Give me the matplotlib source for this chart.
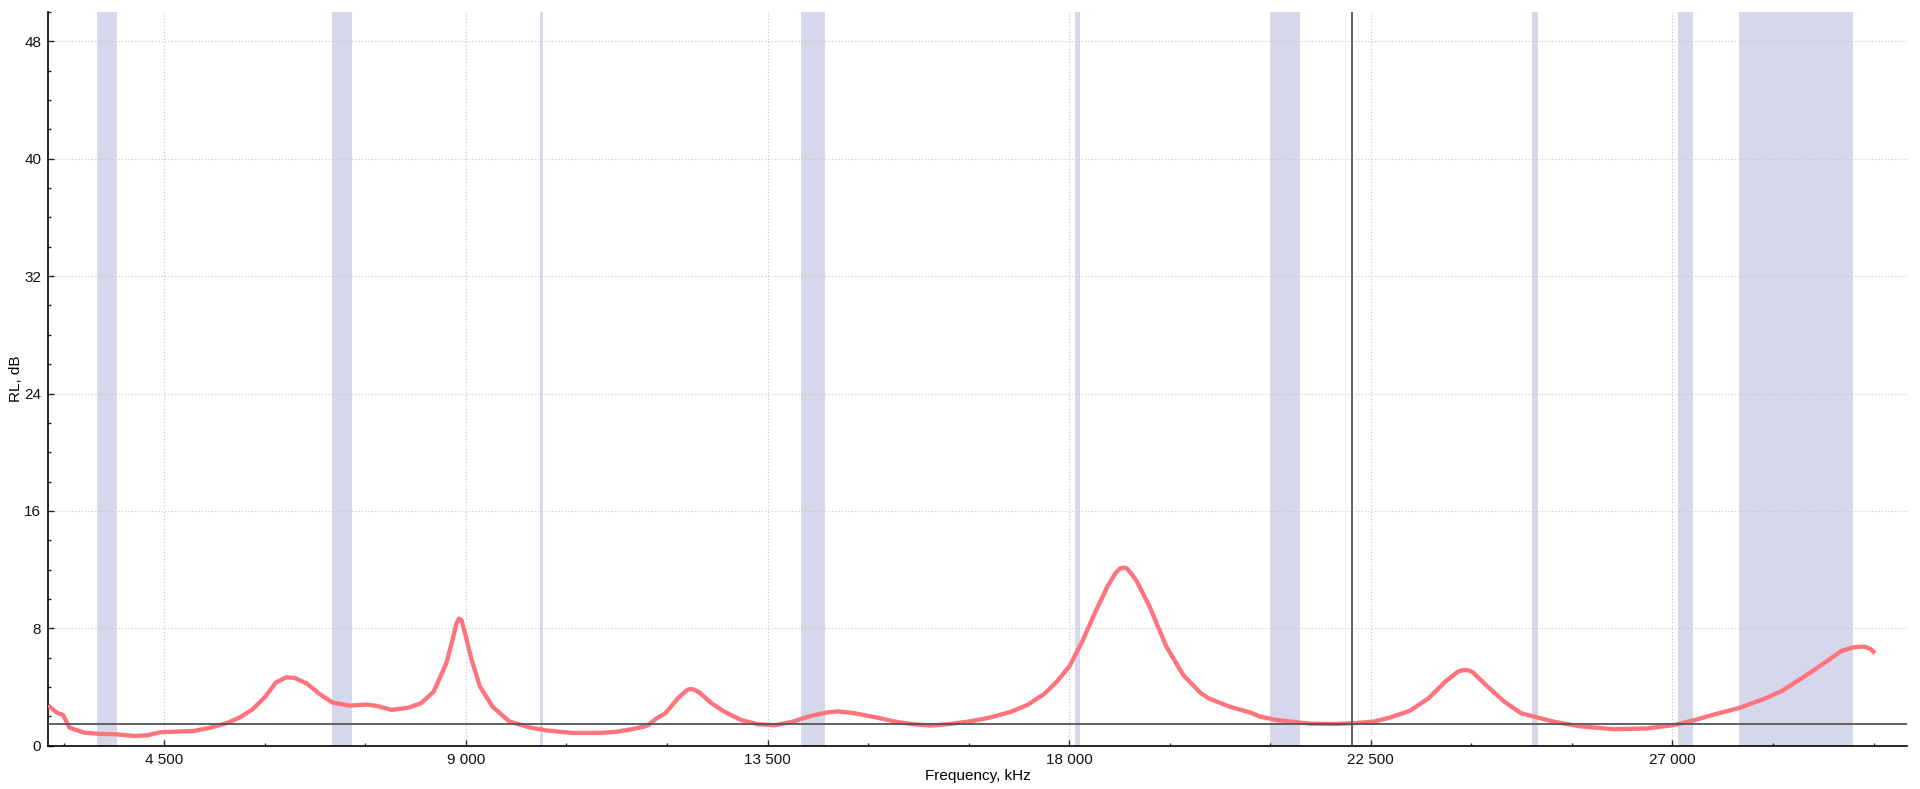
import matplotlib
matplotlib.use('Agg')
import matplotlib.pyplot as plt
import matplotlib.ticker as mticker

# ── Data ──────────────────────────────────────────────────────────────────────
FREQ = [2770, 2896, 2991, 3085, 3305, 3556, 3776, 4059, 4248, 4436,
        4687, 4939, 5190, 5441, 5629, 5818, 6007, 6164, 6320, 6446,
        6636, 6823, 7011, 7263, 7514, 7671, 7891, 8142, 8330, 8519,
        8708, 8800, 8860, 8896, 8935, 8990, 9085, 9210, 9398, 9651, 9964, 10216,
        10592, 10969, 11220, 11472, 11660, 11723, 11848, 11975, 12163, 12300, 12351,
        12410, 12478, 12666, 12854, 13106, 13357, 13608, 13859, 14110, 14362, 14550,
        14801, 15116, 15429, 15681, 15932, 16184, 16498, 16812, 17126, 17378,
        17629, 17817, 18006, 18194, 18382, 18571, 18697, 18760, 18810, 18860, 18940, 19010,
        19200, 19450, 19702, 19953, 20078, 20393, 20707, 20848, 21099, 21351,
        21602, 21979, 22293, 22545, 22796, 23079, 23361, 23613, 23801, 23870, 23927,
        23980, 24021, 24241, 24492, 24744, 24995, 25246, 25623, 26126, 26629, 27004,
        27319, 27633, 28010, 28388, 28639, 28889, 29079, 29330, 29519, 29708,
        29864, 29958, 30021]
RL = [2.75, 2.25, 2.09, 1.23, 0.89, 0.80, 0.78, 0.66, 0.71, 0.91,
      0.96, 1.00, 1.23, 1.55, 1.93, 2.48, 3.34, 4.30, 4.66, 4.62,
      4.21, 3.50, 2.94, 2.73, 2.80, 2.71, 2.44, 2.59, 2.89, 3.68,
      5.62, 7.20, 8.35, 8.66, 8.55, 7.60, 5.85, 4.03, 2.66, 1.64, 1.23, 1.03,
      0.87, 0.87, 0.93, 1.12, 1.30, 1.41, 1.87, 2.21, 3.23, 3.80, 3.87,
      3.80, 3.64, 2.89, 2.32, 1.75, 1.46, 1.39, 1.62, 1.98, 2.25, 2.34,
      2.21, 1.93, 1.62, 1.46, 1.37, 1.46, 1.64, 1.91, 2.30, 2.78,
      3.53, 4.37, 5.43, 7.09, 9.03, 10.85, 11.80, 12.08, 12.14, 12.08, 11.65, 11.19,
      9.48, 6.75, 4.82, 3.62, 3.23, 2.66, 2.25, 1.98, 1.75, 1.62,
      1.50, 1.48, 1.55, 1.64, 1.93, 2.37, 3.23, 4.37, 5.05, 5.14, 5.16,
      5.10, 5.00, 4.03, 3.00, 2.21, 1.91, 1.62, 1.32, 1.12, 1.18, 1.39,
      1.73, 2.14, 2.59, 3.23, 3.75, 4.48, 5.05, 5.84, 6.46, 6.71,
      6.75, 6.59, 6.30]

BAND_START = [3500, 7000, 10100, 14000, 18080, 21000, 24900, 27080, 28000]
BAND_END   = [3800, 7300, 10150, 14350, 18160, 21450, 25000, 27300, 29700]

LIMIT_RL   = 1.48      # horizontal threshold line, dB
MARKER_F   = 22217     # vertical marker, kHz

X_MIN, X_MAX = 2770, 30500
Y_MIN, Y_MAX = 0, 50

# ── Style ─────────────────────────────────────────────────────────────────────
plt.rcParams['font.family'] = ['Liberation Sans Narrow', 'Liberation Sans', 'DejaVu Sans']
plt.rcParams['font.size'] = 11

LINE_COLOR = '#ff737c'
BAND_COLOR = '#d6d7ea'
GRID_COLOR = '#c4c4c4'
MARK_COLOR = '#555555'

fig = plt.figure(figsize=(19.2, 7.89), dpi=100)
ax = fig.add_axes([0.02516, 0.0549, 0.9681, 0.9299])

for x0, x1 in zip(BAND_START, BAND_END):
    ax.axvspan(x0, x1, color=BAND_COLOR, lw=0, zorder=1)

ax.plot(FREQ, RL, color=LINE_COLOR, lw=3.1, solid_capstyle='butt',
        solid_joinstyle='round', zorder=3)

ax.axhline(LIMIT_RL, color=MARK_COLOR, lw=1.3, zorder=4)
ax.axvline(MARKER_F, color=MARK_COLOR, lw=1.3, zorder=4)

ax.set_xlim(X_MIN, X_MAX)
ax.set_ylim(Y_MIN, Y_MAX)

ax.xaxis.set_major_locator(mticker.MultipleLocator(4500))
ax.xaxis.set_minor_locator(mticker.MultipleLocator(1500))
ax.yaxis.set_major_locator(mticker.MultipleLocator(8))
ax.yaxis.set_minor_locator(mticker.MultipleLocator(2))
ax.xaxis.set_major_formatter(
    mticker.FuncFormatter(lambda v, p: f'{int(v):,}'.replace(',', ' ')))

ax.set_axisbelow('line')
ax.grid(True, which='major', color=GRID_COLOR, lw=0.8, ls=(0, (1, 2)))

ax.tick_params(which='both', direction='in', color='#222222', labelcolor='#111111')
ax.tick_params(which='major', length=4, width=1, pad=5, labelsize=11)
ax.tick_params(which='minor', length=2, width=1)

ax.spines['top'].set_visible(False)
ax.spines['right'].set_visible(False)
ax.spines['left'].set_linewidth(1.2)
ax.spines['bottom'].set_linewidth(1.2)

ax.set_xlabel('Frequency, kHz', fontsize=11, labelpad=2)
ax.set_ylabel('RL, dB', fontsize=11, labelpad=1)

fig.savefig('out.png', dpi=100)
